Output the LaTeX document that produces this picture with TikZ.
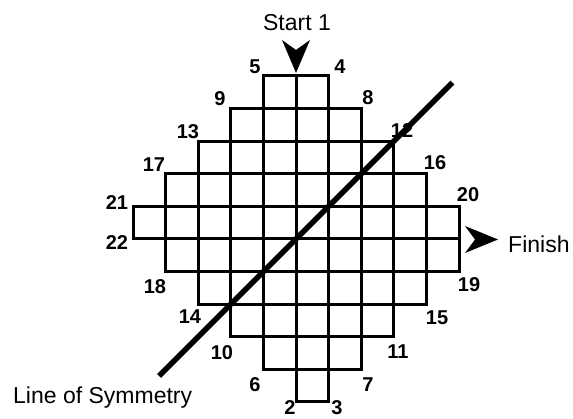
\documentclass[tikz,border=0pt]{standalone}
\usepackage{fontspec}
\setmainfont{Liberation Sans}
\begin{document}
\begin{tikzpicture}[x=1pt,y=-1pt,
  num/.style={font=\fontsize{20}{23}\selectfont\bfseries, inner sep=0pt},
  lbl/.style={font=\fontsize{23}{27}\selectfont, inner sep=0pt},
  cell/.style={draw, line width=3pt},
  symline/.style={line width=5.5pt},
  headfill/.style={fill=black}]
\path[use as bounding box] (0,0) rectangle (573,419);
% grid
\begin{scope}[shift={(133pt,-76pt)}, x=32.6pt, y=-32.6pt]
  \foreach \r/\a/\b in {0/4/5,1/3/6,2/2/7,3/1/8,4/0/9,5/1/9,6/2/8,7/3/7,8/4/6,9/5/5}{
    \foreach \c in {\a,...,\b}{
      \draw[cell] (\c,\r) rectangle ++(1,1);
    }
  }
  \coordinate (symA) at (0.8,9.2);
  \coordinate (symB) at (9.8,0.2);
\end{scope}
% corner numbers
\node[num] (n5) at (255,67) {5};
\node[num] (n4) at (340,67) {4};
\node[num] (n9) at (220,99) {9};
\node[num] (n8) at (368,98) {8};
\node[num] (n13) at (188,132) {13};
\node[num] (n12) at (402,131) {12};
\node[num] (n17) at (154,165) {17};
\node[num] (n16) at (435,163) {16};
\node[num] (n21) at (117,203) {21};
\node[num] (n20) at (468,195) {20};
\node[num] (n22) at (117,243) {22};
\node[num] (n19) at (469,285) {19};
\node[num] (n18) at (155,287) {18};
\node[num] (n15) at (437,318) {15};
\node[num] (n14) at (190,317) {14};
\node[num] (n11) at (398,352) {11};
\node[num] (n10) at (222,353) {10};
\node[num] (n7) at (368,385) {7};
\node[num] (n6) at (255,385) {6};
\node[num] (n2) at (290,408) {2};
\node[num] (n3) at (337,408) {3};
% text labels
\node[lbl, anchor=base] (start) at (297,31) {Start 1};
\node[lbl, anchor=base west] (finish) at (508,253) {Finish};
\node[lbl, anchor=base west] (sym) at (13,404) {Line of Symmetry};
% arrowheads
\fill[headfill] (296,73) -- (282,40) -- (296,50) -- (310,40) -- cycle;
\fill[headfill] (498,239.5) -- (465,226) -- (475,239.5) -- (465,253) -- cycle;
% line of symmetry
\draw[symline] (symA) -- (symB);
\end{tikzpicture}
\end{document}
